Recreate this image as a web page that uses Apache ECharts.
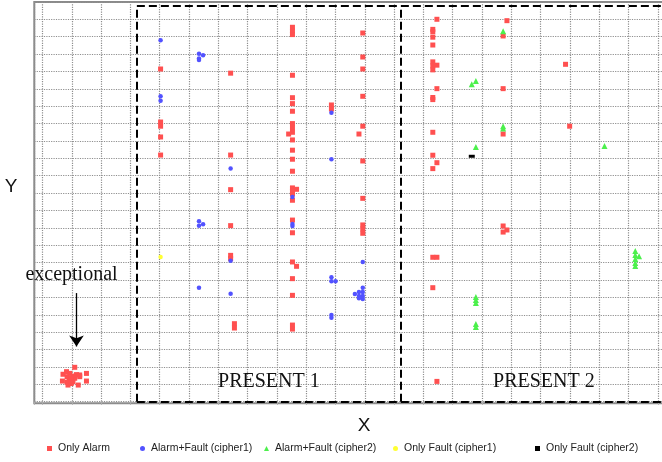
<!DOCTYPE html>
<html>
<head>
<meta charset="utf-8">
<title>Alarm / Fault scatter</title>
<script src="https://cdn.jsdelivr.net/npm/echarts@6/dist/echarts.min.js"></script>
<style>
  html, body { margin: 0; padding: 0; background: #fff; }
  #chart { width: 662px; height: 462px; }
</style>
</head>
<body>
<div id="chart"></div>
<script>
// axis units: one grid cell = 1 on both axes (the original has no tick labels)
var seriesNames = ['Only Alarm', 'Alarm+Fault (cipher1)', 'Alarm+Fault (cipher2)', 'Only Fault (cipher1)', 'Only Fault (cipher2)'];

var onlyAlarm = [
  [4.03, 19.14], [4.03, 16.09], [4.03, 15.85], [4.03, 15.23], [4.03, 14.19],
  [6.42, 18.90], [6.42, 14.19], [6.42, 12.20], [6.42, 10.13], [6.42, 8.42], [6.42, 8.23], [6.55, 4.49], [6.55, 4.24],
  [8.53, 21.54], [8.53, 21.33], [8.53, 21.12], [8.53, 18.78], [8.53, 17.49], [8.53, 17.15], [8.53, 16.71],
  [8.53, 16.00], [8.53, 15.75], [8.53, 15.50], [8.40, 15.40], [8.53, 15.06], [8.53, 14.47], [8.53, 13.95],
  [8.53, 13.26], [8.53, 12.30], [8.53, 12.12], [8.53, 11.95], [8.67, 12.22], [8.53, 11.59], [8.53, 10.45],
  [8.53, 9.72], [8.53, 8.04], [8.67, 7.79], [8.53, 7.08], [8.53, 6.12], [8.53, 4.41], [8.53, 4.18],
  [9.86, 17.07], [9.86, 16.84],
  [10.93, 21.21], [10.93, 19.83], [10.93, 19.14], [10.93, 17.57], [10.93, 15.85], [10.80, 15.40],
  [10.93, 13.85], [10.93, 11.70], [10.93, 10.17], [10.93, 9.94], [10.93, 9.69],
  [13.46, 22.00], [13.32, 21.42], [13.32, 21.28], [13.32, 20.97], [13.32, 20.52], [13.32, 19.55],
  [13.32, 19.32], [13.32, 19.09], [13.46, 19.36], [13.46, 18.01], [13.32, 17.50], [13.32, 17.38],
  [13.32, 15.50], [13.32, 14.18], [13.46, 13.75], [13.32, 13.41], [13.32, 8.31], [13.46, 8.31],
  [13.32, 6.56], [13.46, 1.17],
  [15.85, 21.92], [15.72, 21.04], [15.72, 18.01], [15.72, 15.40], [15.72, 10.11], [15.72, 9.76], [15.85, 9.88],
  [17.85, 19.41], [17.99, 15.85]
];

// the "exceptional" clump in the lower left, also Only Alarm
var exceptionalAlarm = [
  [1.10, 1.98], [0.82, 1.73], [0.70, 1.58], [0.93, 1.63], [1.04, 1.48], [1.27, 1.54], [1.50, 1.63],
  [0.91, 1.29], [1.10, 1.35], [1.27, 1.44], [0.68, 1.19], [0.84, 1.12], [1.04, 1.15], [1.50, 1.19],
  [0.87, 0.96], [1.22, 0.96], [0.84, 1.44], [0.98, 1.36], [1.16, 1.56], [0.98, 1.05]
];

var alarmFault1 = [
  [4.03, 20.79], [4.03, 17.57], [4.03, 17.32],
  [5.34, 20.02], [5.48, 19.93], [5.34, 19.74], [5.34, 19.66], [5.34, 10.38], [5.48, 10.21], [5.34, 10.13], [5.34, 6.56],
  [6.42, 13.41], [6.42, 8.11], [6.42, 6.21],
  [8.53, 11.78], [8.53, 10.22], [8.53, 10.11],
  [9.86, 16.63], [9.86, 13.95], [9.86, 7.16], [9.86, 6.93], [10.00, 6.93], [9.86, 4.99], [9.86, 4.83],
  [10.93, 8.04], [10.93, 6.56], [10.93, 6.31], [10.93, 6.08], [10.93, 5.91], [10.80, 6.31], [10.80, 6.08],
  [10.80, 5.95], [10.66, 6.20]
];

var alarmFault2 = [
  [14.79, 18.45], [14.65, 18.26], [14.79, 14.65], [14.79, 6.02], [14.79, 5.85], [14.79, 5.68],
  [14.79, 4.47], [14.79, 4.30], [15.72, 21.31], [15.72, 15.85], [15.72, 15.72], [19.18, 14.71],
  [20.23, 8.67], [20.23, 8.44], [20.23, 8.21], [20.23, 7.98], [20.23, 7.81], [20.36, 8.37]
];

var onlyFault1 = [[4.03, 8.33]];
var onlyFault2 = [[14.65, 14.12]];

// dashed regions, in axis units
var regionNames = ['PRESENT 1', 'PRESENT 2'];
var regionEdges = [3.22, 12.23, 21.99];
var regionTop = 22.77;
var regionLabelY = 1.15;

var exceptionalText = 'exceptional';
var exceptionalTextAt = [0.99, 7.29];
var exceptionalArrow = [[1.16, 6.25], [1.16, 3.18]];

var serif = 'Liberation Serif, Times New Roman, serif';
var sans = 'Liberation Sans, Arial, sans-serif';

var chart = echarts.init(document.getElementById('chart'));

function legendAt(name, left) {
  return {
    data: [name],
    left: left,
    top: 438,
    itemWidth: 5,
    itemHeight: 5,
    selectedMode: false,
    textStyle: { fontFamily: sans, fontSize: 10.5, color: '#222', padding: [0, 0, 0, 1] }
  };
}

// box outline: one vertical per edge, plus top and bottom
var boxLines = [];
regionEdges.forEach(function (x) {
  boxLines.push([{ coord: [x, 0] }, { coord: [x, regionTop] }]);
});
var first = regionEdges[0], last = regionEdges[regionEdges.length - 1];
boxLines.push([{ coord: [first, regionTop] }, { coord: [last, regionTop] }]);
boxLines.push([{ coord: [first, 0] }, { coord: [last, 0] }]);

var regionLabels = regionNames.map(function (n, i) {
  return { name: n, coord: [(regionEdges[i] + regionEdges[i + 1]) / 2, regionLabelY] };
});

var textLabel = {
  show: true, position: 'inside', formatter: '{b}',
  fontFamily: serif, fontSize: 20, color: '#111'
};

var gridLine = { color: '#8f8f8f', type: 'dotted', width: 1.2 };

var option = {
  animation: false,
  backgroundColor: '#fff',
  grid: {
    left: 34.3, top: 1.9, width: 667.5, height: 401.4,
    show: true, borderColor: '#8a8a8a', borderWidth: 2,
    containLabel: false, outerBoundsMode: 'none'
  },
  legend: [
    legendAt(seriesNames[0], 42),
    legendAt(seriesNames[1], 135),
    legendAt(seriesNames[2], 259),
    legendAt(seriesNames[3], 388),
    legendAt(seriesNames[4], 530)
  ],
  xAxis: {
    type: 'value', min: -0.28, max: 22.5, minInterval: 1, maxInterval: 1,
    axisLine: { show: false },
    axisLabel: { show: false },
    axisTick: { show: true, length: 3, lineStyle: { color: '#aaa' } },
    splitLine: { show: true, lineStyle: gridLine },
    name: 'X', nameLocation: 'middle', nameGap: 13,
    nameTextStyle: { fontFamily: sans, fontSize: 19, color: '#111', padding: [0, 8, 0, 0] }
  },
  yAxis: {
    type: 'value', min: -0.09, max: 23, minInterval: 1, maxInterval: 1,
    axisLine: { show: false },
    axisLabel: { show: false },
    axisTick: { show: false },
    splitLine: { show: true, lineStyle: gridLine },
    name: 'Y', nameLocation: 'middle', nameGap: 17, nameRotate: 0,
    nameTextStyle: {
      fontFamily: sans, fontSize: 19, color: '#111',
      verticalAlign: 'bottom', lineHeight: 19, padding: [0, 0, 6, 0]
    }
  },
  series: [
    {
      name: seriesNames[0], type: 'scatter', symbol: 'rect', symbolSize: 5,
      itemStyle: { color: '#ff5050', opacity: 1 },
      data: onlyAlarm.concat(exceptionalAlarm)
    },
    {
      name: seriesNames[1], type: 'scatter', symbol: 'circle', symbolSize: 4.5,
      itemStyle: { color: '#5252ff', opacity: 1 },
      data: alarmFault1
    },
    {
      name: seriesNames[2], type: 'scatter', symbol: 'triangle', symbolSize: 6,
      itemStyle: { color: '#4cf04c', opacity: 1 },
      data: alarmFault2
    },
    {
      name: seriesNames[3], type: 'scatter', symbol: 'circle', symbolSize: 4.5,
      itemStyle: { color: '#ffff33', opacity: 1 },
      data: onlyFault1
    },
    {
      name: seriesNames[4], type: 'scatter', symbol: 'rect', symbolSize: [6, 3],
      itemStyle: { color: '#000', opacity: 1 },
      data: onlyFault2
    },
    {
      // annotations only: dashed regions, labels and the arrow
      name: 'annotations', type: 'scatter', data: [], silent: true,
      markLine: {
        silent: true, symbol: ['none', 'none'],
        label: { show: false },
        lineStyle: { color: '#000', width: 2, type: [8, 4] },
        emphasis: { disabled: true },
        data: boxLines.concat([[
          { coord: exceptionalArrow[0], symbol: 'none' },
          { coord: exceptionalArrow[1], symbol: 'arrow', symbolSize: 11,
            lineStyle: { type: 'solid', width: 1.3, color: '#000' } }
        ]])
      },
      markPoint: {
        silent: true, symbol: 'circle', symbolSize: 1,
        itemStyle: { color: 'rgba(0,0,0,0)' },
        label: textLabel,
        data: regionLabels.concat([{ name: exceptionalText, coord: exceptionalTextAt }])
      }
    }
  ]
};

chart.setOption(option);
</script>
</body>
</html>
